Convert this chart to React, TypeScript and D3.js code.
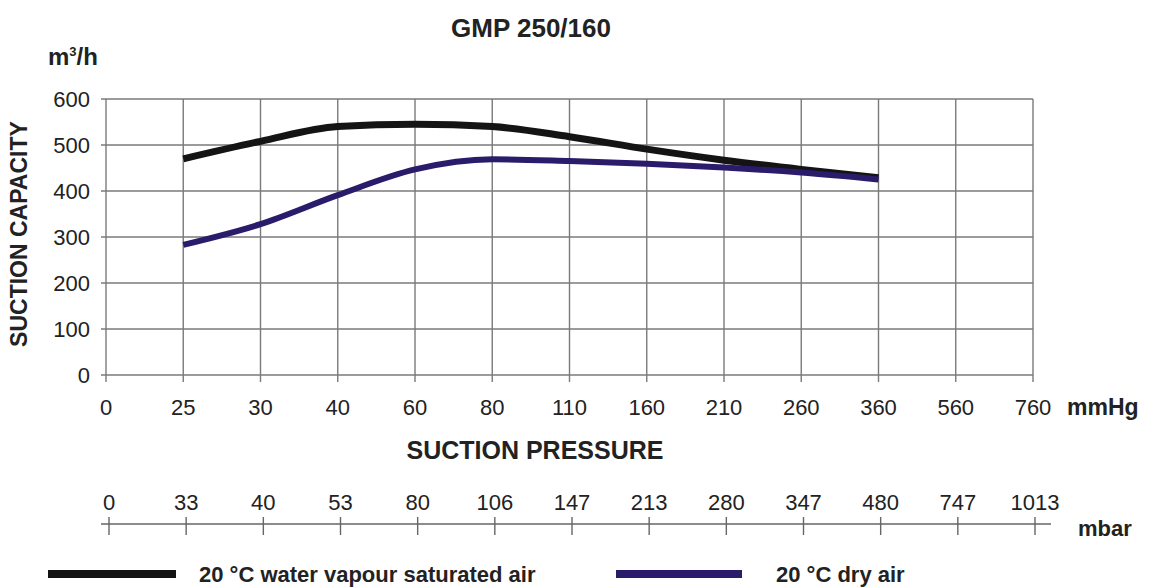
import React, { useEffect, useRef } from 'react';
import * as d3 from 'd3';

const mmHgTicks = ['0', '25', '30', '40', '60', '80', '110', '160', '210', '260', '360', '560', '760'];
const mbarTicks = ['0', '33', '40', '53', '80', '106', '147', '213', '280', '347', '480', '747', '1013'];
const yTicks = [0, 100, 200, 300, 400, 500, 600];

const curvePoints = ['25', '30', '40', '60', '80', '110', '160', '210', '260', '360'];
const saturatedAir = [470, 508, 540, 545, 540, 518, 491, 467, 447, 429];
const dryAir = [283, 328, 391, 447, 469, 465, 459, 451, 440, 425];

const seriesList = [
  { name: '20 °C water vapour saturated air', values: saturatedAir, color: '#141414', width: 7 },
  { name: '20 °C dry air', values: dryAir, color: '#2b1c6b', width: 6 },
];

const W = 1150;
const H = 588;
const FONT = '"Liberation Sans", Arial, sans-serif';
const TXT = '#222';
const GRID = '#7a7a7a';

const App: React.FC = () => {
  const svgRef = useRef<SVGSVGElement>(null);

  useEffect(() => {
    const svg = d3.select(svgRef.current);
    svg.selectAll('*').remove();

    const x = d3.scalePoint<string>().domain(mmHgTicks).range([106, 1033]);
    const y = d3.scaleLinear().domain([0, 600]).range([375, 99]);
    const xb = d3.scalePoint<string>().domain(mbarTicks).range([109, 1035]);

    // Title
    svg.append('text')
      .attr('x', 531).attr('y', 37)
      .attr('text-anchor', 'middle')
      .style('font-family', FONT).style('font-size', '26px').style('font-weight', 'bold')
      .style('fill', TXT)
      .text('GMP 250/160');

    // unit
    const unit = svg.append('text')
      .attr('x', 48).attr('y', 65)
      .style('font-family', FONT).style('font-size', '24px').style('font-weight', 'bold')
      .style('fill', TXT);
    unit.append('tspan').text('m');
    unit.append('tspan').attr('dy', -9).style('font-size', '13px').text('3');
    unit.append('tspan').attr('dy', 9).text('/h');

    // Horizontal grid
    svg.append('g').selectAll('line')
      .data(yTicks)
      .enter().append('line')
      .attr('x1', 101).attr('x2', x('760')!)
      .attr('y1', d => y(d)).attr('y2', d => y(d))
      .attr('stroke', GRID).attr('stroke-width', 1.4);

    // Vertical grid
    svg.append('g').selectAll('line')
      .data(mmHgTicks)
      .enter().append('line')
      .attr('x1', d => x(d)!).attr('x2', d => x(d)!)
      .attr('y1', y(600)).attr('y2', 382)
      .attr('stroke', GRID).attr('stroke-width', 1.4);

    // Y tick labels
    svg.append('g').selectAll('text')
      .data(yTicks)
      .enter().append('text')
      .attr('x', 90).attr('y', d => y(d) + 8)
      .attr('text-anchor', 'end')
      .style('font-family', FONT).style('font-size', '22px').style('fill', TXT)
      .text(d => d);

    // X tick labels
    svg.append('g').selectAll('text')
      .data(mmHgTicks)
      .enter().append('text')
      .attr('x', d => x(d)!).attr('y', 415)
      .attr('text-anchor', 'middle')
      .style('font-family', FONT).style('font-size', '22px').style('fill', TXT)
      .text(d => d);

    svg.append('text')
      .attr('x', 1067).attr('y', 415)
      .style('font-family', FONT).style('font-size', '23px').style('font-weight', 'bold')
      .style('fill', TXT)
      .text('mmHg');

    // Y axis title
    svg.append('text')
      .attr('transform', 'translate(27,234) rotate(-90)')
      .attr('text-anchor', 'middle')
      .style('font-family', FONT).style('font-size', '23px').style('font-weight', 'bold')
      .style('fill', TXT)
      .text('SUCTION CAPACITY');

    // X axis title
    svg.append('text')
      .attr('x', 535).attr('y', 459)
      .attr('text-anchor', 'middle')
      .style('font-family', FONT).style('font-size', '25px').style('font-weight', 'bold')
      .style('fill', TXT)
      .text('SUCTION PRESSURE');

    // Curves
    const line = d3.line<number>()
      .x((_, i) => x(curvePoints[i])!)
      .y(d => y(d))
      .curve(d3.curveMonotoneX);

    seriesList.forEach(s => {
      svg.append('path')
        .attr('d', line(s.values))
        .attr('fill', 'none')
        .attr('stroke', s.color)
        .attr('stroke-width', s.width);
    });

    // mbar axis
    const mb = svg.append('g');
    mb.append('line')
      .attr('x1', 101).attr('x2', 1051)
      .attr('y1', 524).attr('y2', 524)
      .attr('stroke', '#666').attr('stroke-width', 1.4);
    mb.selectAll('.mtick')
      .data(mbarTicks)
      .enter().append('line')
      .attr('class', 'mtick')
      .attr('x1', d => xb(d)!).attr('x2', d => xb(d)!)
      .attr('y1', 517).attr('y2', 535)
      .attr('stroke', '#666').attr('stroke-width', 1.4);
    mb.selectAll('.mlabel')
      .data(mbarTicks)
      .enter().append('text')
      .attr('class', 'mlabel')
      .attr('x', d => xb(d)!).attr('y', 510)
      .attr('text-anchor', 'middle')
      .style('font-family', FONT).style('font-size', '22px').style('fill', TXT)
      .text(d => d);
    svg.append('text')
      .attr('x', 1078).attr('y', 536)
      .style('font-family', FONT).style('font-size', '22px').style('font-weight', 'bold')
      .style('fill', TXT)
      .text('mbar');

    // Legend
    const legendPos = [
      { x1: 48, x2: 176, tx: 199 },
      { x1: 616, x2: 742, tx: 776 },
    ];
    seriesList.forEach((s, i) => {
      const p = legendPos[i];
      svg.append('line')
        .attr('x1', p.x1).attr('x2', p.x2)
        .attr('y1', 574).attr('y2', 574)
        .attr('stroke', s.color).attr('stroke-width', 8);
      svg.append('text')
        .attr('x', p.tx).attr('y', 582)
        .style('font-family', FONT).style('font-size', '22px').style('font-weight', 'bold')
        .style('fill', TXT)
        .text(s.name);
    });
  }, []);

  return (
    <svg
      ref={svgRef}
      width={W}
      height={H}
      style={{ position: 'absolute', left: 0, top: 0, background: '#fff' }}
    />
  );
};

export default App;
